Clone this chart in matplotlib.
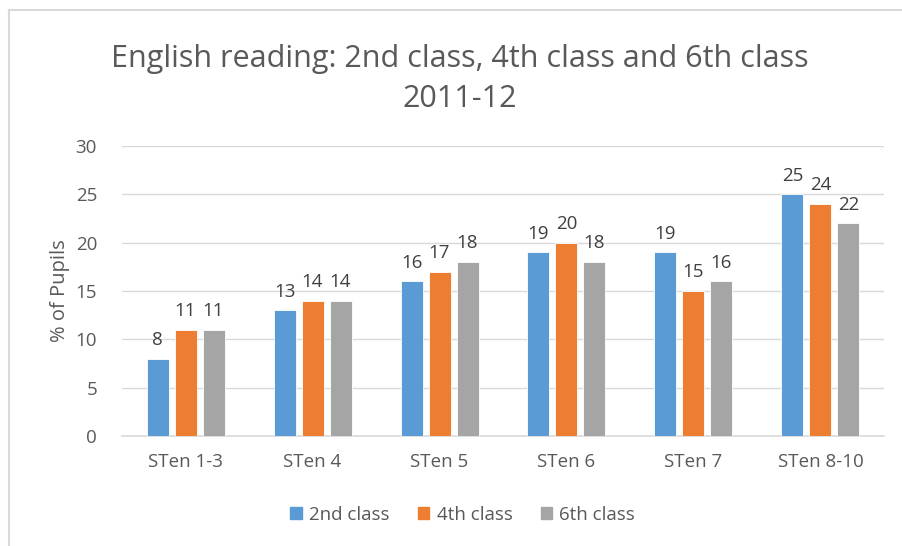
import matplotlib
matplotlib.use("Agg")
import matplotlib.pyplot as plt
import numpy as np
from matplotlib.patches import Rectangle
from matplotlib.lines import Line2D

categories = ["STen 1-3", "STen 4", "STen 5", "STen 6", "STen 7", "STen 8-10"]
series_names = ["2nd class", "4th class", "6th class"]
class2 = [8, 13, 16, 19, 19, 25]
class4 = [11, 14, 17, 20, 15, 24]
class6 = [11, 14, 18, 18, 16, 22]
colors = ["#5B9BD5", "#ED7D31", "#A5A5A5"]
yticks = [0, 5, 10, 15, 20, 25, 30]

plt.rcParams['font.family'] = ['Open Sans', 'DejaVu Sans']

fig = plt.figure(figsize=(9.02, 5.46), dpi=100)
ax = fig.add_axes([0.1353, 0.2015, 0.980 - 0.1353, 0.7326 - 0.2015])

x = np.arange(len(categories))
w = 22 / 127
step = 28 / 127
for i, (vals, c) in enumerate(zip([class2, class4, class6], colors)):
    pos = x + (i - 1) * step
    ax.bar(pos, vals, width=w, color=c, label=series_names[i], zorder=3,
           edgecolor="white", linewidth=0.6)
    for p, v in zip(pos, vals):
        ax.annotate(str(v), (p, v), xytext=(0, 7), textcoords="offset points",
                    ha="center", va="bottom", fontsize=13.5, color="#404040")

ax.set_xlim(-0.5, len(categories) - 0.5)
ax.set_ylim(0, 30)
ax.set_yticks(yticks)
ax.set_xticks(x)
ax.set_xticklabels(categories)
ax.tick_params(axis="both", length=0, colors="#595959", labelsize=13.5)
ax.tick_params(axis="x", pad=12)
ax.tick_params(axis="y", pad=18)
ax.grid(axis="y", color="#D9D9D9", linewidth=1, zorder=0)
for s in ["top", "right", "left"]:
    ax.spines[s].set_visible(False)
ax.spines["bottom"].set_color("#D9D9D9")
ax.spines["bottom"].set_linewidth(1.2)
ax.set_ylabel("% of Pupils", fontsize=14.5, color="#595959", labelpad=4)

fig.text(0.51, 0.855, "English reading: 2nd class, 4th class and 6th class\n2011-12",
         ha="center", va="center", fontsize=22, color="#595959", linespacing=1.45)

handles = [Rectangle((0, 0), 1, 1, color=c) for c in colors]
fig.legend(handles, series_names, loc="center", bbox_to_anchor=(0.513, 0.057),
           ncol=3, frameon=False, fontsize=13.5, labelcolor="#595959",
           handlelength=0.6, handleheight=0.6, handletextpad=0.4, columnspacing=1.5)

# outer border
fig.add_artist(Line2D([9/902, 9/902], [0, 1 - 10/546], color="#D9D9D9", linewidth=1.5,
                      transform=fig.transFigure))
fig.add_artist(Line2D([9/902, 1], [1 - 10/546, 1 - 10/546], color="#D9D9D9", linewidth=1.5,
                      transform=fig.transFigure))

fig.savefig("out.png", dpi=100)
